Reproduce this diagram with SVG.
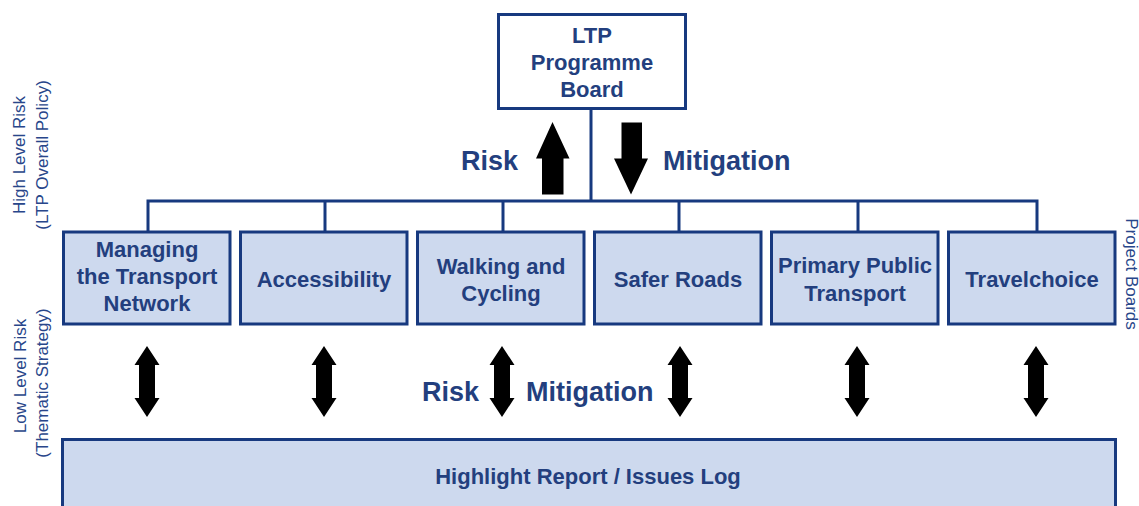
<svg xmlns="http://www.w3.org/2000/svg" width="1139" height="506" viewBox="0 0 1139 506">
  <style>
    .box { fill: #CDD9EE; stroke: #17397F; stroke-width: 3; }
    .top { fill: #FFFFFF; stroke: #17397F; stroke-width: 3; }
    .wire { fill: none; stroke: #17397F; stroke-width: 3; }
    .lbl { font-family: "Liberation Sans", Arial, sans-serif; font-weight: bold; font-size: 22px; fill: #233F7E; text-anchor: middle; }
    .big { font-family: "Liberation Sans", Arial, sans-serif; font-weight: bold; font-size: 27px; fill: #233F7E; }
    .side { font-family: "Liberation Sans", Arial, sans-serif; font-size: 17px; fill: #28468A; text-anchor: middle; }
    .arrow { fill: #000000; }
  </style>
  <defs>
    <!-- double-headed vertical arrow, centred on x=0, from y=0 to y=71 -->
    <path id="dbl" d="M0 0 L12.5 19 L8 19 L8 52 L12.5 52 L0 71 L-12.5 52 L-8 52 L-8 19 L-12.5 19 Z"/>
  </defs>

  <rect width="1139" height="506" fill="#FFFFFF"/>

  <!-- side captions -->
  <g id="side-labels">
    <text class="side" transform="translate(25 155) rotate(-90)">High Level Risk</text>
    <text class="side" transform="translate(48 155) rotate(-90)">(LTP Overall Policy)</text>
    <text class="side" transform="translate(26 376) rotate(-90)">Low Level Risk</text>
    <text class="side" transform="translate(48 383) rotate(-90)">(Thematic Strategy)</text>
    <text class="side" transform="translate(1126 274) rotate(90)">Project Boards</text>
  </g>

  <!-- connectors -->
  <g id="connectors">
    <path class="wire" d="M591 110 V201"/>
    <path class="wire" d="M148 231 V201 H1037 V231"/>
    <path class="wire" d="M325 201 V231"/>
    <path class="wire" d="M503 201 V231"/>
    <path class="wire" d="M679 201 V231"/>
    <path class="wire" d="M858 201 V231"/>
    <!-- risk up / mitigation down -->
    <path class="arrow" d="M552.5 122 L569.5 158.5 L563.5 158.5 L563.5 194.5 L542 194.5 L542 158.5 L536 158.5 Z"/>
    <path class="arrow" d="M631 194.5 L648 158.5 L642 158.5 L642 122.5 L621.5 122.5 L621.5 158.5 L614 158.5 Z"/>
    <use href="#dbl" class="arrow" x="147" y="346"/>
    <use href="#dbl" class="arrow" x="324" y="346"/>
    <use href="#dbl" class="arrow" x="502" y="346"/>
    <use href="#dbl" class="arrow" x="680" y="346"/>
    <use href="#dbl" class="arrow" x="857" y="346"/>
    <use href="#dbl" class="arrow" x="1036" y="346"/>
  </g>

  <g id="flow-labels">
    <text class="big" x="461" y="170">Risk</text>
    <text class="big" x="663" y="170">Mitigation</text>
    <text class="big" x="422" y="401">Risk</text>
    <text class="big" x="526" y="401">Mitigation</text>
  </g>

  <g id="ltp-board">
    <rect class="top" x="498.5" y="14.5" width="187" height="94"/>
    <text class="lbl" x="592" y="43">LTP</text>
    <text class="lbl" x="592" y="70">Programme</text>
    <text class="lbl" x="592" y="97">Board</text>
  </g>

  <g id="managing-network">
    <rect class="box" x="63.5" y="232" width="166.5" height="92"/>
    <text class="lbl" x="147" y="257">Managing</text>
    <text class="lbl" x="147" y="284">the Transport</text>
    <text class="lbl" x="147" y="311">Network</text>
  </g>

  <g id="accessibility">
    <rect class="box" x="240.5" y="232" width="166.5" height="92"/>
    <text class="lbl" x="324" y="287">Accessibility</text>
  </g>

  <g id="walking-cycling">
    <rect class="box" x="417.5" y="232" width="166.5" height="92"/>
    <text class="lbl" x="501" y="274">Walking and</text>
    <text class="lbl" x="501" y="301">Cycling</text>
  </g>

  <g id="safer-roads">
    <rect class="box" x="594.5" y="232" width="166.5" height="92"/>
    <text class="lbl" x="678" y="287">Safer Roads</text>
  </g>

  <g id="primary-public-transport">
    <rect class="box" x="771.5" y="232" width="166.5" height="92"/>
    <text class="lbl" x="855" y="273">Primary Public</text>
    <text class="lbl" x="855" y="301">Transport</text>
  </g>

  <g id="travelchoice">
    <rect class="box" x="948.5" y="232" width="166.5" height="92"/>
    <text class="lbl" x="1032" y="287">Travelchoice</text>
  </g>

  <g id="highlight-report">
    <rect class="box" x="62.5" y="439.5" width="1053" height="80"/>
    <text class="lbl" x="588" y="484">Highlight Report / Issues Log</text>
  </g>
</svg>
